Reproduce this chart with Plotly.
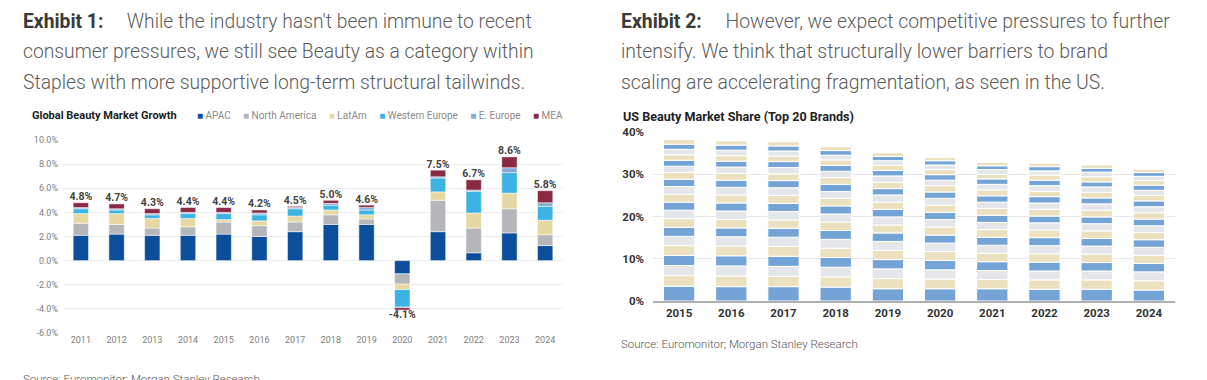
import plotly.graph_objects as go

W, H = 1207, 380

# ---------------- Exhibit 1 data: Global Beauty Market Growth ----------------
growth_years = ["2011", "2012", "2013", "2014", "2015", "2016", "2017",
                "2018", "2019", "2020", "2021", "2022", "2023", "2024"]
regions = ["APAC", "North America", "LatAm", "Western Europe", "E. Europe", "MEA"]
apac = [2.1, 2.2, 2.1, 2.1, 2.2, 2.0, 2.4, 3.0, 3.0, -1.1, 2.4, 0.65, 2.3, 1.25]
north_america = [1.0, 0.8, 0.6, 0.7, 1.0, 0.9, 0.8, 0.8, 0.45, -0.85, 2.6, 2.05, 2.0, 0.9]
latam = [0.8, 0.9, 0.8, 0.7, 0.2, 0.4, 0.5, 0.4, 0.35, -0.45, 0.7, 1.25, 1.3, 1.2]
western_europe = [0.4, 0.3, 0.3, 0.4, 0.5, 0.5, 0.6, 0.4, 0.4, -1.45, 1.15, 1.8, 1.7, 1.15]
e_europe = [0.1, 0.1, 0.1, 0.1, 0.1, 0.15, 0.1, 0.15, 0.2, -0.05, 0.1, 0.1, 0.4, 0.3]
mea = [0.4, 0.4, 0.4, 0.4, 0.4, 0.25, 0.1, 0.25, 0.2, -0.2, 0.55, 0.85, 0.9, 1.0]
growth_labels = ["4.8%", "4.7%", "4.3%", "4.4%", "4.4%", "4.2%", "4.5%",
                 "5.0%", "4.6%", "-4.1%", "7.5%", "6.7%", "8.6%", "5.8%"]
growth_ticks = [-6, -4, -2, 0, 2, 4, 6, 8, 10]
growth_tick_labels = ["-6.0%", "-4.0%", "-2.0%", "0.0%", "2.0%", "4.0%", "6.0%", "8.0%", "10.0%"]

# ---------------- Exhibit 2 data: US Beauty Market Share (Top 20 brands) ----------------
share_years = ["2015", "2016", "2017", "2018", "2019", "2020", "2021", "2022", "2023", "2024"]
share_2015 = [3.5, 2.5, 2.4, 2.4, 2.3, 2.2, 2.1, 2.1, 2.0, 1.9, 1.9, 1.8, 1.7, 1.6, 1.5, 1.4, 1.3, 1.3, 1.2, 1.1]
share_2016 = [3.4, 2.5, 2.4, 2.4, 2.3, 2.2, 2.1, 2.0, 2.0, 1.9, 1.9, 1.8, 1.7, 1.6, 1.5, 1.4, 1.3, 1.3, 1.2, 1.0]
share_2017 = [3.4, 2.4, 2.4, 2.4, 2.3, 2.2, 2.1, 2.0, 2.0, 1.9, 1.9, 1.8, 1.7, 1.6, 1.5, 1.4, 1.3, 1.2, 1.2, 1.0]
share_2018 = [3.3, 2.4, 2.3, 2.3, 2.2, 2.1, 2.1, 2.0, 1.9, 1.9, 1.8, 1.6, 1.7, 1.6, 1.5, 1.4, 1.3, 1.1, 1.1, 0.9]
share_2019 = [2.9, 2.4, 2.3, 2.2, 2.2, 2.1, 2.0, 1.9, 1.9, 1.8, 1.7, 1.7, 1.5, 1.5, 1.5, 1.3, 1.2, 1.1, 1.0, 0.9]
share_2020 = [2.9, 2.3, 2.2, 2.2, 2.1, 2.0, 1.9, 1.9, 1.8, 1.7, 1.7, 1.6, 1.5, 1.5, 1.3, 1.3, 1.2, 1.1, 1.0, 0.8]
share_2021 = [2.9, 2.2, 2.1, 2.1, 2.0, 1.9, 1.9, 1.8, 1.7, 1.7, 1.6, 1.5, 1.5, 1.4, 1.3, 1.3, 1.1, 1.1, 0.9, 0.8]
share_2022 = [2.8, 2.2, 2.1, 2.1, 2.0, 1.9, 1.9, 1.8, 1.7, 1.6, 1.6, 1.5, 1.5, 1.3, 1.3, 1.3, 1.2, 1.0, 1.0, 0.8]
share_2023 = [2.8, 2.2, 2.1, 2.0, 2.0, 1.9, 1.8, 1.8, 1.7, 1.6, 1.6, 1.5, 1.4, 1.3, 1.3, 1.2, 1.2, 1.1, 0.9, 0.8]
share_2024 = [2.6, 2.2, 2.1, 2.0, 1.9, 1.9, 1.8, 1.7, 1.6, 1.6, 1.5, 1.4, 1.4, 1.3, 1.2, 1.2, 1.1, 1.0, 0.9, 0.8]
share_ticks = [0, 10, 20, 30, 40]
share_tick_labels = ["0%", "10%", "20%", "30%", "40%"]

# ---------------- styles ----------------
region_colors = ["#0b4f9c", "#b5b6b9", "#e6d8a3", "#3cb3e4", "#86aad5", "#8a2944"]
share_colors = ["#74a3d6", "#ebe1bf", "#e4e6ea"]
FONT = "Roboto, 'Noto Sans', Arial, sans-serif"


def px_x(p):
    return p / W


def px_y(p):
    return (H - p) / H


fig = go.Figure()

region_values = [apac, north_america, latam, western_europe, e_europe, mea]
for name, vals, col in zip(regions, region_values, region_colors):
    fig.add_trace(go.Bar(
        x=growth_years, y=vals, name=name, xaxis="x", yaxis="y",
        marker=dict(color=col, line=dict(color="white", width=0.5)),
        width=0.43, showlegend=False, hoverinfo="x+y+name"))

# total labels (text trace through the same axes)
growth_totals = [round(sum(v[i] for v in region_values), 2) for i in range(len(growth_years))]
fig.add_trace(go.Scatter(
    x=growth_years, y=growth_totals, xaxis="x", yaxis="y",
    mode="text", text=["<b>" + t + "</b>" for t in growth_labels],
    textposition=["top center" if t >= 0 else "bottom center" for t in growth_totals],
    textfont=dict(family=FONT, size=10.5, color="#444444"),
    cliponaxis=False, showlegend=False, hoverinfo="skip"))

share_by_year = [share_2015, share_2016, share_2017, share_2018, share_2019,
                 share_2020, share_2021, share_2022, share_2023, share_2024]
n_brands = len(share_2015)
for b in range(n_brands):
    fig.add_trace(go.Bar(
        x=share_years, y=[yr[b] for yr in share_by_year],
        name=f"Brand {b + 1}", xaxis="x2", yaxis="y2",
        marker=dict(color=share_colors[b % 3], line=dict(color="white", width=1)),
        width=0.6, showlegend=False))

annotations = []

# headers
body_col = "#5c5c5c"
head_col = "#3a3a3a"
sp = "&nbsp;" * 5
left_lines = [
    f"<span style='color:{head_col}'><b>Exhibit 1:</b></span>{sp}While the industry hasn't been immune to recent",
    "consumer pressures, we still see Beauty as a category within",
    "Staples with more supportive long-term structural tailwinds.",
]
right_lines = [
    f"<span style='color:{head_col}'><b>Exhibit 2:</b></span>{sp}However, we expect competitive pressures to further",
    "intensify. We think that structurally lower barriers to brand",
    "scaling are accelerating fragmentation, as seen in the US.",
]
for k, (ll, rl) in enumerate(zip(left_lines, right_lines)):
    yy = px_y(22 + 30 * k)
    annotations.append(dict(x=px_x(21), y=yy, xref="paper", yref="paper", text=ll,
                            showarrow=False, xanchor="left", yanchor="middle",
                            font=dict(family=FONT, size=19.3, color=body_col, weight=300)))
    annotations.append(dict(x=px_x(619), y=yy, xref="paper", yref="paper", text=rl,
                            showarrow=False, xanchor="left", yanchor="middle",
                            font=dict(family=FONT, size=19.4, color=body_col, weight=300)))

# chart titles
annotations.append(dict(x=px_x(30), y=px_y(115), xref="paper", yref="paper",
                        text="<b>Global Beauty Market Growth</b>", showarrow=False,
                        xanchor="left", yanchor="middle",
                        font=dict(family=FONT, size=11, color="#222222")))
annotations.append(dict(x=px_x(621), y=px_y(117), xref="paper", yref="paper",
                        text="<b>US Beauty Market Share (Top 20 Brands)</b>", showarrow=False,
                        xanchor="left", yanchor="middle",
                        font=dict(family=FONT, size=12.6, color="#222222")))

# legend for exhibit 1 (text with coloured squares)
legend_parts = [f"<span style='color:{c}'>■</span> {n}" for n, c in zip(regions, region_colors)]
annotations.append(dict(x=px_x(195), y=px_y(115), xref="paper", yref="paper",
                        text="&nbsp;" * 5 .join(legend_parts) if False else ("&nbsp;" * 5).join(legend_parts),
                        showarrow=False, xanchor="left", yanchor="middle",
                        font=dict(family=FONT, size=10, color="#8a8a8a")))

# sources
annotations.append(dict(x=px_x(21), y=px_y(370), xref="paper", yref="paper",
                        text="Source: Euromonitor; Morgan Stanley Research", showarrow=False,
                        xanchor="left", yanchor="top",
                        font=dict(family=FONT, size=11.5, color="#555555", weight=300)))
annotations.append(dict(x=px_x(619), y=px_y(344), xref="paper", yref="paper",
                        text="Source: Euromonitor; Morgan Stanley Research", showarrow=False,
                        xanchor="left", yanchor="middle",
                        font=dict(family=FONT, size=11.5, color="#555555", weight=300)))

fig.update_layout(
    width=W, height=H,
    margin=dict(l=0, r=0, t=0, b=0, autoexpand=False),
    paper_bgcolor="white", plot_bgcolor="white",
    barmode="relative",
    font=dict(family=FONT),
    showlegend=False,
    annotations=annotations,
    xaxis=dict(domain=[px_x(63), px_x(563)], anchor="y", type="category",
               range=[-0.5, len(growth_years) - 0.5], showgrid=False, ticks="",
               showline=False, zeroline=False, automargin=False,
               tickfont=dict(family=FONT, size=9, color="#808080")),
    yaxis=dict(domain=[px_y(333), px_y(140)], anchor="x", range=[-6, 10],
               tickmode="array", tickvals=growth_ticks, ticktext=growth_tick_labels,
               showgrid=True, gridcolor="#ececec", gridwidth=1, zeroline=False,
               showline=False, ticks="", ticklabelstandoff=4, automargin=False,
               tickfont=dict(family=FONT, size=9, color="#808080")),
    xaxis2=dict(domain=[px_x(653), px_x(1175)], anchor="y2", type="category",
                range=[-0.5, len(share_years) - 0.5], showgrid=False, ticks="",
                showline=True, linecolor="#b0b0b0", linewidth=2, zeroline=False,
                automargin=False,
                tickfont=dict(family=FONT, size=11.5, color="#333333", weight="bold")),
    yaxis2=dict(domain=[px_y(301), px_y(132)], anchor="x2", range=[0, 40],
                tickmode="array", tickvals=share_ticks, ticktext=share_tick_labels,
                showgrid=True, gridcolor="#e6e6e6", gridwidth=1, zeroline=False,
                showline=False, ticks="", ticklabelstandoff=8, automargin=False,
                tickfont=dict(family=FONT, size=11.5, color="#333333", weight="bold")),
)

fig.write_html("out.html", config={"displayModeBar": False},
               post_script="document.body.style.margin='0px';document.body.style.overflow='hidden';")
